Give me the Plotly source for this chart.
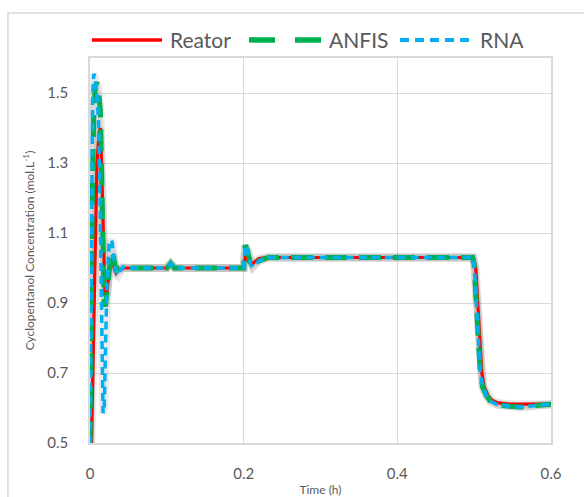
import plotly.graph_objects as go

# --- data ---
reator_t = [0.002, 0.004, 0.0065, 0.009, 0.012, 0.0135, 0.015, 0.017, 0.0195, 0.022, 0.025, 0.028,
            0.031, 0.034, 0.038, 0.045, 0.10, 0.105, 0.11, 0.20, 0.203, 0.206, 0.21, 0.215, 0.22, 0.23,
            0.30, 0.40, 0.499, 0.502, 0.504, 0.506, 0.508, 0.510, 0.513, 0.518, 0.523, 0.530, 0.545, 0.60]
reator_y = [0.50, 0.75, 1.10, 1.30, 1.39, 1.40, 1.30, 1.10, 0.92, 0.93, 0.99, 1.02,
            1.00, 0.985, 0.995, 1.00, 1.00, 1.013, 1.00, 1.00, 1.045, 1.02, 1.01, 1.02, 1.027, 1.03,
            1.03, 1.03, 1.03, 1.00, 0.92, 0.83, 0.76, 0.70, 0.66, 0.635, 0.622, 0.615, 0.611, 0.611]

anfis_t = [0.000, 0.001, 0.003, 0.005, 0.007, 0.009, 0.011, 0.0135, 0.015, 0.016, 0.017, 0.0185,
           0.020, 0.022, 0.025, 0.028, 0.031, 0.034, 0.038, 0.10, 0.105, 0.11, 0.20, 0.202, 0.205,
           0.209, 0.212, 0.22, 0.232, 0.30, 0.40, 0.498, 0.500, 0.502, 0.504, 0.506, 0.508, 0.511,
           0.516, 0.521, 0.530, 0.545, 0.560, 0.575, 0.60]
anfis_y = [0.50, 0.80, 1.20, 1.45, 1.52, 1.53, 1.51, 1.45, 1.30, 1.15, 1.00, 0.90,
           0.89, 0.93, 1.02, 1.05, 1.03, 0.99, 1.00, 1.00, 1.013, 1.00, 1.00, 1.065, 1.05,
           1.01, 1.003, 1.02, 1.03, 1.03, 1.03, 1.03, 1.01, 0.93, 0.84, 0.76, 0.70, 0.66,
           0.635, 0.62, 0.61, 0.605, 0.603, 0.606, 0.611]

rna_t = [0.000, 0.001, 0.002, 0.0035, 0.005, 0.007, 0.009, 0.011, 0.013, 0.014, 0.015, 0.016,
         0.017, 0.0185, 0.020, 0.022, 0.025, 0.0285, 0.031, 0.034, 0.037, 0.040, 0.043, 0.05,
         0.10, 0.105, 0.11, 0.20, 0.202, 0.205, 0.209, 0.212, 0.22, 0.232, 0.30, 0.40, 0.498,
         0.500, 0.502, 0.504, 0.506, 0.508, 0.511, 0.516, 0.521, 0.530, 0.545, 0.560, 0.575, 0.60]
rna_y = [0.50, 0.90, 1.25, 1.50, 1.555, 1.54, 1.50, 1.42, 1.20, 1.00, 0.80, 0.65,
         0.585, 0.60, 0.75, 0.95, 1.07, 1.08, 1.03, 0.99, 0.98, 0.995, 1.003, 1.00,
         1.00, 1.013, 1.00, 1.00, 1.065, 1.05, 1.01, 1.003, 1.02, 1.03, 1.03, 1.03, 1.03,
         1.01, 0.93, 0.84, 0.76, 0.70, 0.66, 0.635, 0.62, 0.61, 0.605, 0.603, 0.606, 0.611]

series_names = ["Reator", "ANFIS", "RNA"]
x_ticks = [0, 0.2, 0.4, 0.6]
x_tick_labels = ["0", "0.2", "0.4", "0.6"]
y_ticks = [0.5, 0.7, 0.9, 1.1, 1.3, 1.5]
y_tick_labels = ["0.5", "0.7", "0.9", "1.1", "1.3", "1.5"]

FONT = "Lato"
GRID = "#d9d9d9"
TXT = "#595959"
COLORS = ["#ff0000", "#00b050", "#00b0f0"]
WIDTHS = [3.2, 5, 3.5]
DASHES = ["solid", "22px,12px", "8px,5px"]
LEG_DASHES = ["solid", "26px,20px", "9px,6px"]
LEG_WIDTHS = [3.5, 5.5, 4]

data = [(reator_t, reator_y), (anfis_t, anfis_y), (rna_t, rna_y)]

fig = go.Figure()
# soft shadow underlay
for (t, y) in data:
    fig.add_trace(go.Scatter(x=t, y=y, mode="lines", showlegend=False, hoverinfo="skip",
                             line=dict(color="rgba(60,60,60,0.11)", width=8)))
for (t, y), name, c, w, d in zip(data, series_names, COLORS, WIDTHS, DASHES):
    fig.add_trace(go.Scatter(x=t, y=y, mode="lines", name=name, showlegend=False,
                             line=dict(color=c, width=w, dash=d)))

# legend drawn manually (long line samples like the original)
leg_line_x = [(0.0043, 0.1562), (0.3449, 0.5011), (0.6725, 0.8243)]
leg_text_x = [0.1692, 0.5141, 0.8417]
leg_y = 1.047
shapes = []
annotations = []
for (x0, x1), tx, name, c, w, d in zip(leg_line_x, leg_text_x, series_names, COLORS, LEG_WIDTHS, LEG_DASHES):
    shapes.append(dict(type="line", xref="paper", yref="paper", x0=x0, x1=x1, y0=leg_y, y1=leg_y,
                       line=dict(color=c, width=w, dash=d)))
    annotations.append(dict(xref="paper", yref="paper", x=tx, y=leg_y, xanchor="left", yanchor="middle",
                            text=name, showarrow=False, font=dict(size=21, color=TXT, family=FONT)))

shapes.append(dict(type="rect", xref="paper", yref="paper",
                   x0=-0.178, x1=1.09, y0=-0.17, y1=1.117,
                   line=dict(color=GRID, width=1.5), fillcolor="rgba(0,0,0,0)", layer="below"))

fig.update_layout(
    width=584, height=497,
    margin=dict(l=90, r=33, t=58, b=54),
    paper_bgcolor="white", plot_bgcolor="white",
    font=dict(family=FONT, color=TXT),
    showlegend=False,
    xaxis=dict(range=[0, 0.6], tickvals=x_ticks, ticktext=x_tick_labels, automargin=False,
               showgrid=True, gridcolor=GRID, gridwidth=1, zeroline=False,
               showline=True, linecolor=GRID, linewidth=1.5, mirror=True,
               tickfont=dict(size=15, color=TXT), ticks="", ticklabelstandoff=16,
               title=dict(text="Time (h)", font=dict(size=12, color=TXT), standoff=14)),
    yaxis=dict(range=[0.5, 1.6], tickvals=y_ticks, ticktext=y_tick_labels, automargin=False,
               showgrid=True, gridcolor=GRID, gridwidth=1, zeroline=False,
               showline=True, linecolor=GRID, linewidth=1.5, mirror=True,
               tickfont=dict(size=15, color=TXT), ticks="", ticklabelstandoff=17,
               title=dict(text="Cyclopentanol Concentration (mol.L<sup>-1</sup>)",
                          font=dict(size=12, color=TXT), standoff=10)),
    shapes=shapes,
    annotations=annotations,
)

fig.write_html("out.html")
